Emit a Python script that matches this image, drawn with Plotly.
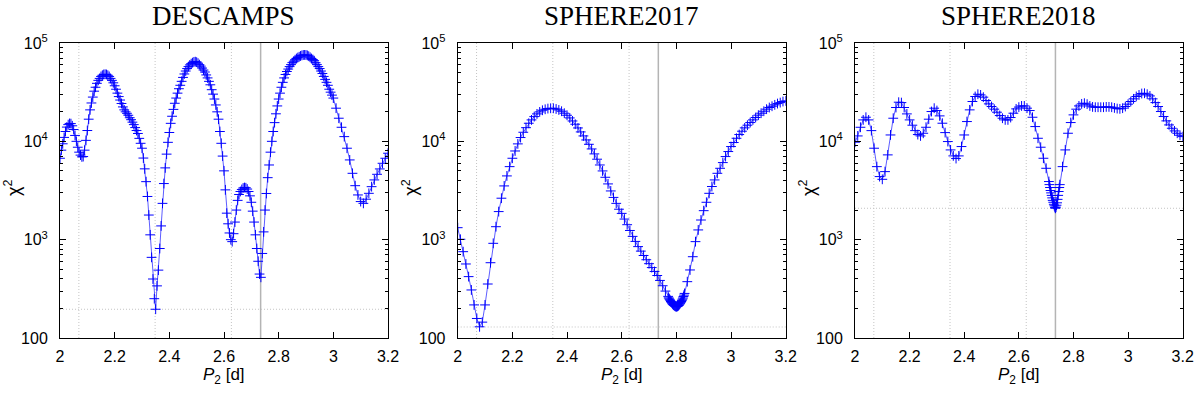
import plotly.graph_objects as go

# ---------------- data ----------------
titles = ["DESCAMPS", "SPHERE2017", "SPHERE2018"]
x_tickvals = [2.0, 2.2, 2.4, 2.6, 2.8, 3.0, 3.2]
x_ticktext = ["2", "2.2", "2.4", "2.6", "2.8", "3", "3.2"]
y_tickvals = [100, 1000, 10000, 100000]
y_ticktext = ["100", "10<sup>3</sup>", "10<sup>4</sup>", "10<sup>5</sup>"]
dotted_periods = [2.069, 2.348, 2.627]
solid_period = 2.734
chi2_minima = [196, 129.4, 2086]

descamps_p = [
    2.000, 2.005, 2.010, 2.015, 2.020, 2.025, 2.030, 2.035, 2.040, 2.045,
    2.050, 2.055, 2.060, 2.065, 2.070, 2.075, 2.080, 2.085, 2.090, 2.095,
    2.100, 2.105, 2.110, 2.115, 2.120, 2.125, 2.130, 2.135, 2.140, 2.145,
    2.150, 2.155, 2.160, 2.165, 2.170, 2.175, 2.180, 2.185, 2.190, 2.195,
    2.200, 2.205, 2.210, 2.215, 2.220, 2.225, 2.230, 2.235, 2.240, 2.245,
    2.250, 2.255, 2.260, 2.265, 2.270, 2.275, 2.280, 2.285, 2.290, 2.295,
    2.300, 2.305, 2.310, 2.315, 2.320, 2.325, 2.330, 2.335, 2.340, 2.345,
    2.350, 2.355, 2.360, 2.365, 2.370, 2.375, 2.380, 2.385, 2.390, 2.395,
    2.400, 2.405, 2.410, 2.415, 2.420, 2.425, 2.430, 2.435, 2.440, 2.445,
    2.450, 2.455, 2.460, 2.465, 2.470, 2.475, 2.480, 2.485, 2.490, 2.495,
    2.500, 2.505, 2.510, 2.515, 2.520, 2.525, 2.530, 2.535, 2.540, 2.545,
    2.550, 2.555, 2.560, 2.565, 2.570, 2.575, 2.580, 2.585, 2.590, 2.595,
    2.600, 2.605, 2.610, 2.615, 2.620, 2.625, 2.630, 2.635, 2.640, 2.645,
    2.650, 2.655, 2.660, 2.665, 2.670, 2.675, 2.680, 2.685, 2.690, 2.695,
    2.700, 2.705, 2.710, 2.715, 2.720, 2.725, 2.730, 2.735, 2.740, 2.745,
    2.750, 2.755, 2.760, 2.765, 2.770, 2.775, 2.780, 2.785, 2.790, 2.795,
    2.800, 2.805, 2.810, 2.815, 2.820, 2.825, 2.830, 2.835, 2.840, 2.845,
    2.850, 2.855, 2.860, 2.865, 2.870, 2.875, 2.880, 2.885, 2.890, 2.895,
    2.900, 2.905, 2.910, 2.915, 2.920, 2.925, 2.930, 2.935, 2.940, 2.945,
    2.950, 2.955, 2.960, 2.965, 2.970, 2.975, 2.980, 2.985, 2.990, 2.995,
    3.000,
    3.01, 3.02, 3.03, 3.04, 3.05, 3.06, 3.07, 3.08, 3.09, 3.10,
    3.11, 3.12, 3.13, 3.14, 3.15, 3.16, 3.17, 3.18, 3.19, 3.20,
]
descamps_chi2 = [
    6730, 8130, 9440, 10960, 12590, 13960, 14790, 15200, 15140, 14390,
    13180, 11480, 10000, 8710, 7760, 7240, 6950, 7000, 8130, 10230,
    12880, 16790, 20890, 24550, 28180, 32360, 35480, 38900, 41690, 43650,
    45710, 46990, 47860, 48080, 47860, 46990, 45710, 43650, 41690, 39360,
    36730, 33880, 30900, 28510, 26300, 24270, 22390, 20890, 19950, 19280,
    18410, 17380, 16600, 15670, 14790, 13800, 12880, 12020, 10720, 9550,
    8510, 6760, 5250, 3890, 2750, 1780, 1120, 661, 398, 251,
    196, 339, 490, 813, 1380, 2340, 3720, 5370, 7410, 9770,
    12300, 15240, 17990, 21130, 24380, 27540, 30900, 34280, 37150, 40740,
    44670, 48420, 51880, 54950, 57540, 59840, 61660, 63100, 64270, 64570,
    63830, 62370, 60260, 58210, 55590, 53090, 50700, 47320, 44160, 40740,
    37580, 33500, 30200, 26920, 23440, 19950, 16790, 12590, 9550, 7080,
    5010, 3210, 1860, 1450, 1170, 1000, 955, 1150, 1510, 2000,
    2510, 2880, 3090, 3240, 3350, 3390, 3370, 3270, 3090, 2790,
    2400, 1950, 1510, 1120, 813, 603, 447, 414, 724, 1200,
    2000, 2950, 4270, 5750, 7760, 10000, 12590, 15490, 19050, 22910,
    26920, 30900, 35480, 39810, 44160, 47860, 51290, 54330, 57540, 60260,
    63100, 65310, 67610, 69500, 71120, 72440, 73790, 74820, 75510, 75680,
    75510, 74820, 73450, 71610, 69500, 67920, 66070, 63100, 60260, 57540,
    54950, 51880, 48980, 45710, 42660, 39810, 37150, 33880, 31620, 29510,
    27540,
    21730, 17180, 13900, 11170, 8510, 6470, 4730, 3540, 2850, 2440,
    2340, 2580, 2960, 3460, 4050, 4620, 5240, 5980, 6730, 7570,
]

sphere2017_p = [
    2.00, 2.01, 2.02, 2.03, 2.04, 2.05, 2.06, 2.07, 2.08, 2.09,
    2.10, 2.11, 2.12, 2.13, 2.14, 2.15, 2.16, 2.17, 2.18, 2.19,
    2.20, 2.21, 2.22, 2.23, 2.24, 2.25, 2.26, 2.27, 2.28, 2.29,
    2.30, 2.31, 2.32, 2.33, 2.34, 2.35, 2.36, 2.37, 2.38, 2.39,
    2.40, 2.41, 2.42, 2.43, 2.44, 2.45, 2.46, 2.47, 2.48, 2.49,
    2.50, 2.51, 2.52, 2.53, 2.54, 2.55, 2.56, 2.57, 2.58, 2.59,
    2.60, 2.61, 2.62, 2.63, 2.64, 2.65, 2.66, 2.67, 2.68, 2.69,
    2.70, 2.71, 2.72, 2.73, 2.74, 2.75, 2.76, 2.77,
    2.772, 2.774, 2.776, 2.778, 2.780, 2.782, 2.784, 2.786, 2.788, 2.790,
    2.792, 2.794, 2.796, 2.798, 2.800, 2.802, 2.804, 2.806, 2.808, 2.810,
    2.812, 2.814, 2.816, 2.818, 2.820, 2.822, 2.824, 2.826, 2.828,
    2.83, 2.84, 2.85, 2.86, 2.87, 2.88, 2.89,
    2.90, 2.91, 2.92, 2.93, 2.94, 2.95, 2.96, 2.97, 2.98, 2.99,
    3.00, 3.01, 3.02, 3.03, 3.04, 3.05, 3.06, 3.07, 3.08, 3.09,
    3.10, 3.11, 3.12, 3.13, 3.14, 3.15, 3.16, 3.17, 3.18, 3.19, 3.20,
]
sphere2017_chi2 = [
    1324, 1009, 755, 566, 421, 308, 217, 158, 130, 145,
    217, 354, 583, 918, 1355, 1930, 2640, 3520, 4450, 5530,
    6730, 7980, 9420, 10930, 12370, 13770, 15270, 16520, 17840, 19010,
    19920, 20700, 21180, 21530, 21680, 21680, 21330, 20850, 20230, 19320,
    18410, 17300, 16110, 14930, 13680, 12470, 11350, 10330, 9330, 8370,
    7450, 6580, 5750, 5000, 4310, 3690, 3130, 2690, 2340, 2040,
    1850, 1620, 1420, 1240, 1080, 960, 850, 765, 690, 625,
    570, 520, 475, 432, 385, 340, 300, 265,
    256, 250, 245, 240, 235, 230, 226, 222, 219, 216,
    214, 212, 210, 209, 208, 209, 210, 212, 214, 217,
    221, 225, 230, 235, 241, 248, 255, 264, 273,
    284, 374, 492, 671, 955, 1256, 1585,
    1972, 2400, 2960, 3470, 4050, 4730, 5320, 6080, 7000, 7870,
    8850, 9730, 10740, 11720, 12670, 13710, 14590, 15520, 16520, 17460,
    18450, 19320, 20230, 21230, 22080, 22750, 23500, 24210, 24770, 25410, 25760,
]

sphere2018_p = [
    2.00, 2.01, 2.02, 2.03, 2.04, 2.05, 2.06, 2.07, 2.08, 2.09,
    2.10, 2.11, 2.12, 2.13, 2.14, 2.15, 2.16, 2.17, 2.18, 2.19,
    2.20, 2.21, 2.22, 2.23, 2.24, 2.25, 2.26, 2.27, 2.28, 2.29,
    2.30, 2.31, 2.32, 2.33, 2.34, 2.35, 2.36, 2.37, 2.38, 2.39,
    2.40, 2.41, 2.42, 2.43, 2.44, 2.45, 2.46, 2.47, 2.48, 2.49,
    2.50, 2.51, 2.52, 2.53, 2.54, 2.55, 2.56, 2.57, 2.58, 2.59,
    2.60, 2.61, 2.62, 2.63, 2.64, 2.65, 2.66, 2.67, 2.68, 2.69,
    2.70, 2.71,
    2.712, 2.714, 2.716, 2.718, 2.720, 2.722, 2.724, 2.726, 2.728, 2.730,
    2.732, 2.734, 2.736, 2.738, 2.740, 2.742, 2.744, 2.746, 2.748,
    2.75, 2.76, 2.77, 2.78, 2.79,
    2.80, 2.81, 2.82, 2.83, 2.84, 2.85, 2.86, 2.87, 2.88, 2.89,
    2.90, 2.91, 2.92, 2.93, 2.94, 2.95, 2.96, 2.97, 2.98, 2.99,
    3.00, 3.01, 3.02, 3.03, 3.04, 3.05, 3.06, 3.07, 3.08, 3.09,
    3.10, 3.11, 3.12, 3.13, 3.14, 3.15, 3.16, 3.17, 3.18, 3.19, 3.20,
]
sphere2018_chi2 = [
    9800, 11350, 13900, 16520, 17580, 16520, 12850, 8510, 5530, 4380,
    4110, 4920, 7280, 11610, 17180, 22080, 25000, 24770, 22080, 19010,
    16520, 14590, 12850, 11720, 11350, 12080, 13900, 16790, 20090, 21730,
    20560, 18150, 15280, 12270, 9950, 8180, 7110, 6680, 7110, 8850,
    11610, 15890, 20890, 25410, 28580, 30130, 29650, 28120, 26000, 24040,
    22590, 21230, 19770, 18290, 17180, 16520, 16520, 17460, 19320, 21380,
    22300, 22910, 22910, 21730, 20560, 17580, 14130, 10740, 8710, 6730,
    5320, 3900,
    3630, 3390, 3160, 2990, 2820, 2660, 2510, 2400, 2290, 2210,
    2130, 2085, 2140, 2240, 2370, 2570, 2820, 3090, 3390,
    3630, 5530, 8180, 12080, 15520,
    18580, 21230, 22910, 24040, 24430, 23880, 22910, 22390, 22230, 22230,
    22230, 22230, 22390, 22390, 22230, 21880, 21530, 21380, 21730, 22590,
    23880, 25410, 27040, 28580, 29650, 30620, 30830, 30130, 28970, 27040,
    24770, 22590, 20090, 17870, 16140, 14690, 13580, 12760, 12080, 11530, 11170,
]

series = [(descamps_p, descamps_chi2), (sphere2017_p, sphere2017_chi2), (sphere2018_p, sphere2018_chi2)]

# ---------------- layout ----------------
W, H = 1200, 393
x_domains = [[60 / W, 388 / W], [457.7 / W, 785.7 / W], [855 / W, 1182.7 / W]]
y_domain = [55 / H, 350 / H]

BLUE = "#0000ff"
SANS = "Liberation Sans, Arial, sans-serif"
TICKFONT = dict(family=SANS, size=16, color="black")

fig = go.Figure()
annotations = []
shapes = []

for i, ((px, py), title) in enumerate(zip(series, titles)):
    sfx = "" if i == 0 else str(i + 1)
    xa, ya = "x" + sfx, "y" + sfx
    fig.add_trace(go.Scatter(
        x=px, y=py, xaxis=xa, yaxis=ya, mode="lines+markers",
        line=dict(color="rgba(30,30,255,0.8)", width=0.9),
        marker=dict(symbol="cross-thin", size=7, line=dict(color=BLUE, width=1), color=BLUE),
        hoverinfo="skip", showlegend=False,
    ))
    axis_common = dict(showline=True, linecolor="black", linewidth=1, mirror="allticks",
                       ticks="inside", tickcolor="black", tickwidth=1, ticklen=6,
                       showgrid=False, zeroline=False, tickfont=TICKFONT, automargin=False)
    fig.layout["xaxis" + sfx] = dict(
        domain=x_domains[i], range=[2.0, 3.2], anchor=ya,
        tickmode="array", tickvals=x_tickvals, ticktext=x_ticktext,
        ticklabelstandoff=4, **axis_common)
    fig.layout["yaxis" + sfx] = dict(
        domain=y_domain, type="log", range=[2, 5], anchor=xa,
        tickmode="array", tickvals=y_tickvals, ticktext=y_ticktext,
        minor=dict(ticks="inside", ticklen=3, tickcolor="black", tickwidth=1,
                   dtick="D1", showgrid=False),
        ticklabelstandoff=8, **axis_common)

    # reference lines
    for p in dotted_periods:
        shapes.append(dict(type="line", xref=xa, yref=ya + " domain", x0=p, x1=p, y0=0, y1=1,
                           line=dict(color="#c4c4c4", width=1, dash="1px,2px"), layer="below"))
    shapes.append(dict(type="line", xref=xa, yref=ya + " domain", x0=solid_period, x1=solid_period,
                       y0=0, y1=1, line=dict(color="#b4b4b4", width=1.5), layer="below"))
    shapes.append(dict(type="line", xref=xa + " domain", yref=ya, x0=0, x1=1,
                       y0=chi2_minima[i], y1=chi2_minima[i],
                       line=dict(color="#c4c4c4", width=1, dash="1px,2px"), layer="below"))

    xc = (x_domains[i][0] + x_domains[i][1]) / 2
    annotations.append(dict(text=title, x=xc, y=1.0, xref="paper", yref="paper",
                            showarrow=False, xanchor="center", yanchor="top", borderpad=0,
                            font=dict(family="Liberation Serif, Times New Roman, serif", size=27, color="black")))
    annotations.append(dict(text="<i>P</i><sub>2</sub> [d]", x=xc, y=(H - 376) / H, xref="paper", yref="paper",
                            showarrow=False, xanchor="center", yanchor="middle",
                            font=dict(family=SANS, size=17, color="black")))
    annotations.append(dict(text="χ<sup>2</sup>", x=x_domains[i][0] - 47 / W, y=(H - 188) / H,
                            xref="paper", yref="paper", showarrow=False, textangle=-90,
                            xanchor="center", yanchor="middle",
                            font=dict(family=SANS, size=18, color="black")))

fig.update_layout(width=W, height=H, margin=dict(l=0, r=0, t=0, b=0, autoexpand=False),
                  paper_bgcolor="white", plot_bgcolor="white",
                  annotations=annotations, shapes=shapes, showlegend=False, hovermode=False)

# the page body has a default 8px margin; remove it so the 1200x393 figure fills the window
fig.write_html("out.html", config={"displayModeBar": False},
               post_script="document.body.style.margin='0px';")
